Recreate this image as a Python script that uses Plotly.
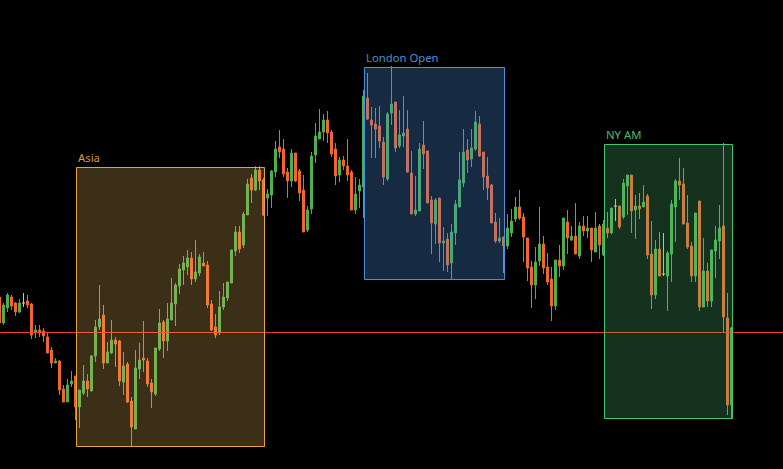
import plotly.graph_objects as go

# OHLC prices (arbitrary price units), one candle per period
opens = [703, 677, 692, 703, 697, 688, 697, 699, 696, 667, 670, 669, 663, 650, 637, 639, 611, 598, 616, 624,
         593, 607, 619, 609, 644, 673, 685, 637, 647, 660, 659, 618, 636, 599, 571, 631, 642, 639, 617, 606,
         651, 678, 659, 680, 696, 714, 730, 733, 742, 721, 727, 737, 735, 696, 673, 667, 693, 702, 717, 749,
         768, 755, 785, 822, 810, 830, 820, 802, 805, 828, 853, 851, 828, 819, 847, 829, 810, 770, 791, 845,
         861, 868, 880, 868, 851, 825, 840, 834, 828, 790, 809, 813, 902, 880, 876, 874, 858, 821, 887, 898,
         854, 864, 871, 827, 786, 789, 855, 849, 800, 776, 802, 757, 761, 737, 767, 793, 817, 850, 841, 851,
         876, 848, 824, 815, 778, 759, 763, 754, 767, 781, 793, 783, 762, 733, 715, 739, 756, 733, 721, 694,
         740, 734, 778, 760, 764, 744, 774, 769, 772, 748, 774, 745, 772, 767, 794, 794, 783, 814, 825, 790,
         794, 793, 804, 746, 705, 751, 726, 724, 746, 793, 819, 816, 777, 754, 724, 799, 693, 729, 699, 749,
         759, 774, 682, 595]
highs = [704, 697, 707, 705, 698, 701, 707, 705, 697, 675, 675, 672, 667, 653, 642, 640, 615, 621, 629, 624,
         610, 635, 626, 645, 680, 715, 695, 658, 680, 663, 660, 648, 638, 603, 650, 657, 679, 642, 621, 652,
         691, 680, 697, 722, 717, 736, 744, 750, 748, 760, 746, 748, 739, 700, 686, 709, 717, 718, 750, 774,
         774, 788, 821, 826, 834, 834, 822, 811, 830, 859, 870, 861, 832, 851, 847, 831, 825, 794, 848, 877,
         891, 886, 889, 870, 857, 843, 844, 861, 830, 823, 821, 910, 927, 893, 892, 894, 863, 888, 934, 898,
         890, 904, 890, 849, 824, 857, 879, 849, 804, 802, 802, 773, 767, 776, 800, 848, 871, 861, 871, 889,
         884, 848, 843, 816, 787, 782, 763, 786, 791, 803, 810, 787, 762, 739, 753, 793, 764, 747, 733, 740,
         755, 782, 790, 774, 797, 778, 784, 784, 772, 788, 776, 780, 788, 792, 801, 794, 821, 825, 825, 805,
         807, 815, 806, 779, 760, 768, 767, 749, 800, 821, 842, 832, 805, 758, 787, 799, 762, 737, 750, 774,
         795, 857, 707, 673]
lows = [676, 675, 688, 690, 684, 687, 693, 692, 661, 662, 663, 658, 647, 632, 637, 605, 598, 598, 613, 580,
        572, 605, 603, 609, 638, 670, 631, 637, 646, 633, 614, 605, 597, 554, 571, 621, 628, 613, 592, 604,
        649, 642, 649, 680, 674, 706, 715, 725, 715, 718, 724, 734, 692, 669, 662, 665, 690, 699, 717, 744,
        747, 752, 785, 797, 809, 810, 784, 784, 792, 823, 842, 823, 802, 813, 818, 799, 768, 768, 786, 837,
        861, 859, 857, 843, 815, 818, 830, 819, 790, 786, 792, 782, 880, 842, 842, 852, 815, 819, 875, 848,
        852, 853, 827, 786, 784, 789, 831, 797, 746, 756, 738, 729, 728, 721, 755, 793, 813, 827, 833, 849,
        843, 810, 800, 777, 757, 757, 727, 751, 763, 778, 780, 738, 719, 692, 701, 734, 726, 715, 679, 690,
        723, 730, 746, 759, 746, 741, 764, 762, 738, 748, 741, 744, 762, 766, 779, 771, 781, 785, 767, 761,
        781, 793, 741, 691, 701, 724, 724, 689, 718, 758, 800, 776, 751, 718, 718, 689, 693, 693, 693, 722,
        741, 668, 585, 582]
closes = [677, 695, 705, 694, 688, 697, 697, 695, 665, 670, 667, 664, 647, 637, 639, 610, 598, 615, 619, 593,
          610, 619, 611, 644, 673, 681, 637, 648, 660, 656, 619, 634, 598, 573, 632, 640, 640, 616, 608, 652,
          677, 659, 681, 697, 715, 731, 737, 742, 721, 728, 743, 734, 695, 670, 665, 693, 703, 718, 750, 768,
          751, 786, 816, 810, 830, 819, 785, 806, 829, 851, 848, 826, 819, 847, 819, 807, 768, 790, 844, 864,
          868, 880, 867, 846, 824, 840, 834, 825, 790, 806, 815, 904, 881, 875, 871, 859, 823, 886, 896, 852,
          865, 867, 828, 786, 790, 851, 846, 797, 777, 800, 757, 759, 735, 768, 796, 820, 848, 840, 852, 878,
          844, 823, 812, 777, 759, 762, 754, 772, 779, 793, 782, 763, 732, 715, 738, 756, 732, 718, 694, 740,
          734, 782, 762, 764, 746, 774, 769, 772, 750, 772, 755, 776, 767, 792, 794, 773, 817, 825, 789, 794,
          791, 798, 745, 705, 751, 724, 726, 747, 796, 819, 815, 776, 753, 724, 787, 693, 729, 699, 750, 760,
          772, 683, 595, 672]

reference_level = 667.5

session_names = ["Asia", "London Open", "NY AM"]
session_first = [20, 92, 152]
session_last = [66, 126, 183]
session_line_colors = ["#e9a23b", "#4a90d9", "#4cc36f"]
session_fill_colors = ["rgba(240,188,92,0.25)", "rgba(74,144,217,0.30)", "rgba(80,200,120,0.25)"]
session_text_colors = ["#d89b3a", "#4a8fd6", "#4cbb6c"]

GREEN = "#4caf50"
ORANGE = "#f2662a"
DOJI = "#c4c4c4"

idx = list(range(len(opens)))
reg = [i for i in idx if opens[i] != closes[i]]
doj = [i for i in idx if opens[i] == closes[i]]

fig = go.Figure()
fig.add_trace(go.Candlestick(
    x=reg,
    open=[opens[i] for i in reg], high=[highs[i] for i in reg],
    low=[lows[i] for i in reg], close=[closes[i] for i in reg],
    increasing=dict(line=dict(color=GREEN, width=1), fillcolor=GREEN),
    decreasing=dict(line=dict(color=ORANGE, width=1), fillcolor=ORANGE),
    whiskerwidth=0, hoverinfo="skip", showlegend=False,
))
fig.add_trace(go.Candlestick(
    x=doj,
    open=[opens[i] for i in doj], high=[highs[i] for i in doj],
    low=[lows[i] for i in doj], close=[closes[i] for i in doj],
    increasing=dict(line=dict(color=DOJI, width=1), fillcolor=DOJI),
    decreasing=dict(line=dict(color=DOJI, width=1), fillcolor=DOJI),
    whiskerwidth=0, hoverinfo="skip", showlegend=False,
))

fig.add_shape(type="line", xref="paper", x0=0, x1=1, yref="y",
              y0=reference_level, y1=reference_level,
              line=dict(color="#f23a32", width=1), layer="above")

for name, s, e, lc, fc, tc in zip(session_names, session_first, session_last,
                                  session_line_colors, session_fill_colors, session_text_colors):
    top = max(highs[s:e + 1]) - 1.5
    bot = min(lows[s:e + 1]) - 0.5
    x0 = s - 0.75
    x1 = e + 0.25
    fig.add_shape(type="rect", x0=x0, x1=x1, y0=bot, y1=top,
                  line=dict(color=lc, width=1), fillcolor=fc, layer="above")
    fig.add_annotation(x=x0, y=top, text=name, showarrow=False,
                       xanchor="left", yanchor="bottom", xshift=-1, yshift=1,
                       font=dict(family="Noto Sans", size=11.3, color=tc))

fig.update_layout(
    width=783, height=469,
    margin=dict(l=0, r=0, t=0, b=0),
    paper_bgcolor="#000000", plot_bgcolor="#000000",
    showlegend=False,
    boxmode="overlay", boxgap=0.5, boxgroupgap=0,
    xaxis=dict(visible=False, range=[0.125, 195.875], rangeslider=dict(visible=False)),
    yaxis=dict(visible=False, range=[531, 1000]),
)

fig.write_html("out.html",
               config={"displayModeBar": False},
               post_script="document.body.style.margin='0';document.body.style.background='#000';")
